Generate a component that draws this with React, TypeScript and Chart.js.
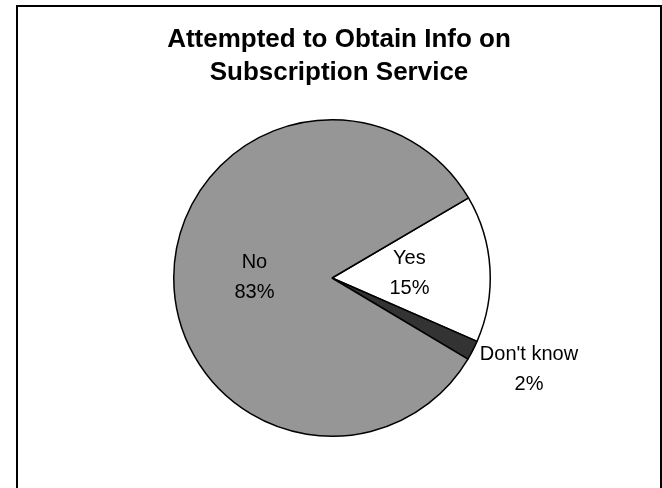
import React, { useEffect, useRef } from "react";
import { Chart, registerables } from "chart.js";

Chart.register(...registerables);

const TITLE_LINES = ["Attempted to Obtain Info on", "Subscription Service"];
const CATEGORIES = ["Yes", "Don't know", "No"];
const PERCENTS = [15, 2, 83];
const SLICE_COLORS = ["#ffffff", "#333333", "#969696"];
const LABEL_OUTSIDE = [false, true, false];

const W = 662;
const H = 488;
const FRAME_LEFT = 16;
const FRAME_TOP = 5;
const FONT_FAMILY = '"Liberation Sans", Arial, Helvetica, sans-serif';

const titlePlugin = {
  id: "frameTitle",
  afterDraw(chart: any) {
    const ctx = chart.ctx;
    ctx.save();
    ctx.font = `bold 26px ${FONT_FAMILY}`;
    ctx.fillStyle = "#000000";
    ctx.textAlign = "center";
    ctx.textBaseline = "alphabetic";
    const cx = (FRAME_LEFT + W) / 2;
    TITLE_LINES.forEach((line, i) => {
      ctx.fillText(line, cx, 47 + i * 33);
    });
    ctx.restore();
  },
};

const sliceLabelPlugin = {
  id: "sliceLabels",
  afterDatasetsDraw(chart: any) {
    const ctx = chart.ctx;
    const meta = chart.getDatasetMeta(0);
    ctx.save();
    ctx.font = `20px ${FONT_FAMILY}`;
    ctx.fillStyle = "#000000";
    ctx.textAlign = "center";
    ctx.textBaseline = "middle";
    const lineGap = 30;
    meta.data.forEach((arc: any, i: number) => {
      const p = arc.getProps(["x", "y", "startAngle", "endAngle", "outerRadius"], true);
      const mid = (p.startAngle + p.endAngle) / 2;
      const lines = [CATEGORIES[i], `${PERCENTS[i]}%`];
      if (LABEL_OUTSIDE[i]) {
        const rr = p.outerRadius + 8;
        const ax = p.x + Math.cos(mid) * rr;
        const ay = p.y + Math.sin(mid) * rr;
        const w = Math.max(...lines.map((l) => ctx.measureText(l).width));
        lines.forEach((l, k) => ctx.fillText(l, ax + w / 2, ay + k * lineGap));
      } else {
        const rr = p.outerRadius * 0.49;
        const cx = p.x + Math.cos(mid) * rr;
        const cy = p.y + Math.sin(mid) * rr;
        lines.forEach((l, k) => ctx.fillText(l, cx, cy + (k - 0.5) * lineGap));
      }
    });
    ctx.restore();
  },
};

export default function App() {
  const canvasRef = useRef<HTMLCanvasElement | null>(null);

  useEffect(() => {
    document.body.style.margin = "0";
    document.documentElement.style.overflow = "hidden";
    const canvas = canvasRef.current;
    if (!canvas) return;
    const chart = new Chart(canvas, {
      type: "pie",
      data: {
        labels: CATEGORIES,
        datasets: [
          {
            data: PERCENTS,
            backgroundColor: SLICE_COLORS,
            borderColor: "#000000",
            borderWidth: 1.5,
          },
        ],
      },
      options: {
        responsive: false,
        animation: false,
        events: [],
        rotation: 59.6,
        layout: { padding: { top: 119, bottom: 51, left: 2, right: 0 } },
        plugins: {
          legend: { display: false },
          tooltip: { enabled: false },
          title: { display: false },
        },
      },
      plugins: [sliceLabelPlugin, titlePlugin],
    });
    return () => chart.destroy();
  }, []);

  return (
    <div style={{ position: "relative", width: W, height: H, background: "#ffffff", overflow: "hidden" }}>
      <canvas ref={canvasRef} width={W} height={H} style={{ position: "absolute", left: 0, top: 0 }} />
      <div
        style={{
          position: "absolute",
          left: FRAME_LEFT,
          top: FRAME_TOP,
          width: W - FRAME_LEFT,
          height: H - FRAME_TOP,
          boxSizing: "border-box",
          borderTop: "2px solid #000",
          borderLeft: "2px solid #000",
          borderRight: "2px solid #000",
          pointerEvents: "none",
        }}
      />
    </div>
  );
}
